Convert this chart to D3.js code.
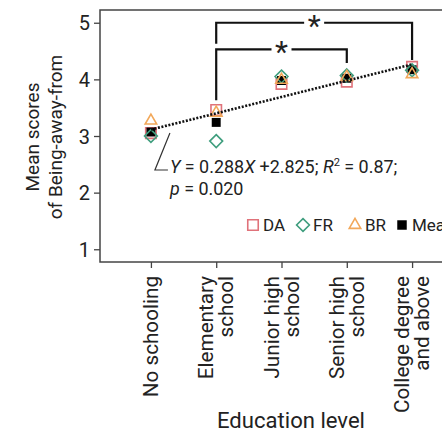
<!DOCTYPE html>
<html>
<head>
<meta charset="utf-8">
<script src="https://cdn.jsdelivr.net/npm/d3@7"></script>
<style>
  body { margin: 0; background: #fff; }
  svg text { font-family: Roboto, "Noto Sans", sans-serif; fill: #222; }
</style>
</head>
<body>
<svg id="chart" width="442" height="438"></svg>
<script>
// data
var levels = ["No schooling", "Elementary school", "Junior high school", "Senior high school", "College degree and above"];
var levelLines = [["No schooling"], ["Elementary", "school"], ["Junior high", "school"], ["Senior high", "school"], ["College degree", "and above"]];
var da = [3.05, 3.46, 3.92, 3.96, 4.22];
var fr = [3.0, 2.91, 4.05, 4.07, 4.16];
var br = [3.27, 3.41, 3.99, 4.04, 4.09];
var meanScore = [3.07, 3.24, 3.98, 4.02, 4.17];
var yTicks = [1, 2, 3, 4, 5];
var fitSlope = 0.288, fitIntercept = 2.825;
// significance brackets: [from, to, bar value, left leg end, right leg end]
var brackets = [
  [1, 4, 5.0, 4.63, 4.34],
  [1, 3, 4.53, 3.63, 4.29]
];

var margin = { top: 10, left: 100 };
var plotW = 363, plotH = 252;

var svg = d3.select("#chart");
var g = svg.append("g").attr("transform", "translate(" + margin.left + "," + margin.top + ")");

// scale a text's font so that it spans a given length
function fitText(sel, target) {
  var fs = parseFloat(sel.style("font-size"));
  var len = sel.node().getComputedTextLength();
  var nfs = fs * target / len;
  sel.style("font-size", nfs + "px");
  return nfs;
}

var x = d3.scalePoint().domain(levels).range([0, plotW]).padding(0.78);
var y = d3.scaleLinear().domain([0.775, 5.225]).range([plotH, 0]);

// frame
g.append("rect")
  .attr("width", plotW).attr("height", plotH)
  .attr("fill", "none").attr("stroke", "#444").attr("stroke-width", 1.5);

// y axis
var yAxis = g.append("g").call(d3.axisLeft(y).tickValues(yTicks).tickFormat(d3.format("d")).tickSize(6).tickPadding(4));
yAxis.select(".domain").remove();
yAxis.selectAll("line").attr("stroke", "#444").attr("stroke-width", 1.3);
yAxis.selectAll("text").style("font-size", "20px").attr("fill", "#333").attr("dy", "0.36em");

// x axis
var xAxis = g.append("g").attr("transform", "translate(0," + plotH + ")")
  .call(d3.axisBottom(x).tickSize(6).tickFormat(""));
xAxis.select(".domain").remove();
xAxis.selectAll("line").attr("stroke", "#444").attr("stroke-width", 1.3);

// size of the rotated labels taken from "College degree"
var probe = g.append("text").style("font-size", "16px").text("College degree");
var xfs = fitText(probe, 137);
probe.remove();

levels.forEach(function(lv, i) {
  var lines = levelLines[i];
  var t = g.append("text")
    .attr("transform", "translate(" + x(lv) + "," + (plotH + 14) + ") rotate(-90)")
    .attr("text-anchor", "end")
    .style("font-size", xfs + "px")
    .attr("fill", "#222");
  lines.forEach(function(s, k) {
    var off = lines.length === 1 ? 0 : (k === 0 ? -10 : 10);
    t.append("tspan").attr("x", 0).attr("y", off).attr("dy", "0.35em").text(s);
  });
});

// axis titles
svg.append("text")
  .attr("transform", "translate(39,137) rotate(-90)")
  .attr("text-anchor", "middle")
  .style("font-size", "19px")
  .text("Mean scores");
svg.append("text")
  .attr("transform", "translate(62,137) rotate(-90)")
  .attr("text-anchor", "middle")
  .style("font-size", "19px")
  .text("of Being-away-from");
var xTitle = svg.append("text")
  .attr("x", 291).attr("y", 428)
  .attr("text-anchor", "middle")
  .style("font-size", "20px")
  .text("Education level");
fitText(xTitle, 148);

// markers
var sq = d3.symbol().type(d3.symbolSquare).size(110);
var dia = d3.symbol().type(d3.symbolDiamond2).size(105);
var tri = d3.symbol().type(d3.symbolTriangle2).size(95);
var colDA = "#e0727a", colFR = "#3f9e7e", colBR = "#f2a85a";

function drawSeries(vals, sym, stroke, fill) {
  g.selectAll(null).data(vals).enter().append("path")
    .attr("d", sym)
    .attr("transform", function(d, i) { return "translate(" + x(levels[i]) + "," + y(d) + ")"; })
    .attr("fill", fill).attr("stroke", stroke).attr("stroke-width", 1.6);
}
drawSeries(da, sq, colDA, "none");
drawSeries(meanScore, d3.symbol().type(d3.symbolSquare).size(80), "none", "#000");
drawSeries(fr, dia, colFR, "none");
drawSeries(br, tri, colBR, "none");

// fitted line
var fit = levels.map(function(lv, i) { return [x(lv), y(fitSlope * (i + 1) + fitIntercept)]; });
g.append("path")
  .attr("d", d3.line()(fit))
  .attr("fill", "none").attr("stroke", "#111")
  .attr("stroke-width", 2.6).attr("stroke-dasharray", "2,1.6");

// significance brackets
brackets.forEach(function(b) {
  var x1 = x(levels[b[0]]), x2 = x(levels[b[1]]);
  g.append("path")
    .attr("d", "M" + x1 + "," + y(b[3]) + "V" + y(b[2]) + "H" + x2 + "V" + y(b[4]))
    .attr("fill", "none").attr("stroke", "#111").attr("stroke-width", 2.2);
  var cx = (x1 + x2) / 2;
  g.append("rect").attr("x", cx - 10).attr("y", y(b[2]) - 6).attr("width", 20).attr("height", 12).attr("fill", "#fff");
  g.append("text").attr("x", cx).attr("y", y(b[2]) + 13)
    .attr("text-anchor", "middle").style("font-size", "30px").attr("fill", "#111").text("*");
});

// equation annotation
var ax = x(levels[0]);
g.append("path")
  .attr("d", "M" + (ax + 19) + "," + (y(3) - 3) + "L" + (ax + 4) + "," + (y(3) + 34) + "H" + (ax + 17))
  .attr("fill", "none").attr("stroke", "#333").attr("stroke-width", 1.2);
var eq = g.append("text").attr("x", ax + 19).attr("y", y(3) + 37).style("font-size", "15px").attr("fill", "#333");
eq.append("tspan").style("font-style", "italic").text("Y");
eq.append("tspan").text(" = 0.288");
eq.append("tspan").style("font-style", "italic").text("X");
eq.append("tspan").text(" +2.825; ");
eq.append("tspan").style("font-style", "italic").text("R");
var sup = eq.append("tspan").attr("dy", -7).style("font-size", "10px").text("2");
eq.append("tspan").attr("dy", 7).text(" = 0.87;");
var efs = fitText(eq, 228);
sup.style("font-size", (efs * 0.62) + "px");
var eq2 = g.append("text").attr("x", ax + 19).attr("y", y(3) + 59).style("font-size", efs + "px").attr("fill", "#333");
eq2.append("tspan").style("font-style", "italic").text("p");
eq2.append("tspan").text(" = 0.020");

// legend
var legend = [["DA", sq, colDA, "none"], ["FR", dia, colFR, "none"], ["BR", tri, colBR, "none"], ["Mean", d3.symbol().type(d3.symbolSquare).size(90), "none", "#000"]];
var legX = [153, 203, 255, 302];
var legY = 215;
legend.forEach(function(l, i) {
  g.append("path").attr("d", l[1])
    .attr("transform", "translate(" + legX[i] + "," + legY + ")")
    .attr("fill", l[3]).attr("stroke", l[2]).attr("stroke-width", 1.6);
  g.append("text").attr("x", legX[i] + 10).attr("y", legY).attr("dy", "0.36em")
    .style("font-size", "17px").attr("fill", "#222").text(l[0]);
});
</script>
</body>
</html>
